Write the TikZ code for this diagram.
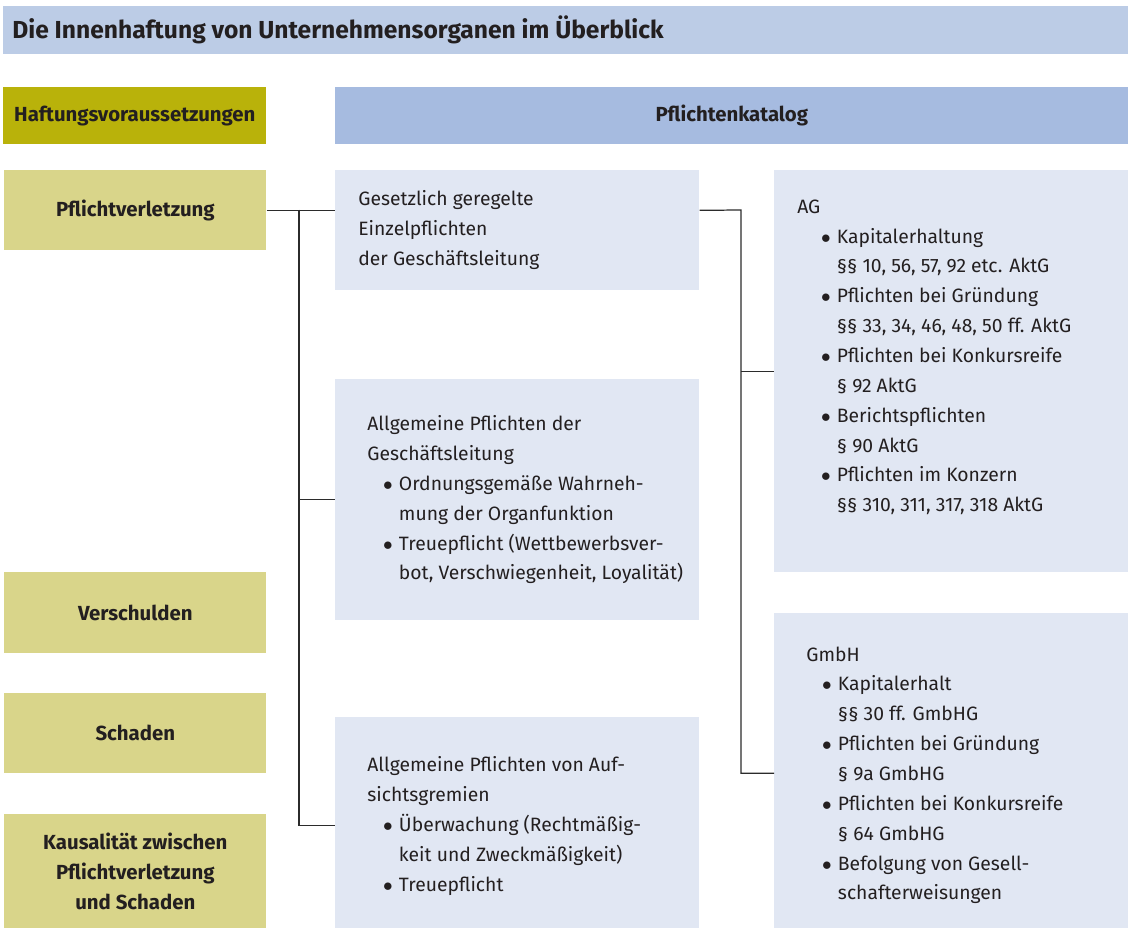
\documentclass[tikz,border=0pt]{standalone}
\usepackage{fontspec}
\setmainfont{Fira Sans}
\usetikzlibrary{positioning}
\definecolor{titelblau}{HTML}{BCCCE6}
\definecolor{kopfoliv}{HTML}{B9B20A}
\definecolor{kopfblau}{HTML}{A6BBE0}
\definecolor{voraussetzung}{HTML}{D9D58A}
\definecolor{pflichtgrau}{HTML}{E1E7F3}
\definecolor{linie}{HTML}{2B2B2B}
\definecolor{schrift}{HTML}{231F20}
\newcommand{\bul}[1]{\hspace*{#1}\makebox[9pt][l]{$\bullet$}}
\newcommand{\nxt}[1]{\hspace*{\dimexpr#1+9pt\relax}}

\tikzset{
  kopf/.style={anchor=north west, inner sep=0pt, minimum height=1.14cm, text=schrift,
    font=\fontsize{11.6}{17}\selectfont\bfseries},
  vor/.style={anchor=north west, fill=voraussetzung, inner sep=0pt, minimum width=5.24cm,
    align=center, text=schrift, font=\fontsize{11.6}{17}\selectfont\bfseries},
  pfl/.style={anchor=north west, fill=pflichtgrau, inner sep=0pt},
  pfltext/.style={anchor=west, inner sep=0pt, align=left, text=schrift,
    font=\fontsize{11}{17}\selectfont},
  verbinder/.style={draw=linie, line width=0.7pt},
}

\begin{document}
\begin{tikzpicture}[x=0.02cm, y=-0.02cm]
\useasboundingbox (0,0) rectangle (1128,928);

% Titelleiste
\node[anchor=north west, fill=titelblau, inner sep=0pt, minimum width=22.5cm, minimum height=0.96cm] (titel) at (3,6) {};
\node[anchor=west, inner sep=0pt, text=schrift, font=\fontsize{14}{16}\selectfont\bfseries] (titeltext) at ([xshift=0.18cm]titel.west) {Die Innenhaftung von Unternehmensorganen im Überblick};

% Kopfzeile
\node[kopf, fill=kopfoliv, minimum width=5.26cm] (haftung) at (3,87) {Haftungsvoraussetzungen};
\node[kopf, fill=kopfblau, minimum width=15.86cm] (katalog) at (335,87) {Pflichtenkatalog};

% Haftungsvoraussetzungen
\node[vor, minimum height=1.6cm] (verletzung) at (4,170) {Pflichtverletzung};
\node[vor, minimum height=1.62cm] (verschulden) at (4,572) {Verschulden};
\node[vor, minimum height=1.6cm] (schaden) at (4,693) {Schaden};
\node[vor, minimum height=2.28cm] (kausal) at (4,814) {Kausalität zwischen\\Pflichtverletzung\\und Schaden};

% Pflichtenkatalog, mittlere Spalte
\node[pfl, minimum width=7.28cm, minimum height=2.4cm] (einzel) at (335,170) {};
\node[pfltext] (einzeltext) at ([xshift=0.46cm]einzel.west) {Gesetzlich geregelte\\Einzelpflichten\\der Geschäftsleitung};

\node[pfl, minimum width=7.28cm, minimum height=4.82cm] (allgemein) at (335,379) {};
\node[pfltext] (allgemeintext) at ([xshift=0.64cm]allgemein.west) {Allgemeine Pflichten der\\Geschäftsleitung\\
  \bul{9pt}Ordnungsgemäße Wahrneh-\\
  \nxt{9pt}mung der Organfunktion\\
  \bul{9pt}Treuepflicht (Wettbewerbsver-\\
  \nxt{9pt}bot, Verschwiegenheit, Loyalität)};

\node[pfl, minimum width=7.28cm, minimum height=4.22cm] (aufsicht) at (335,717) {};
\node[pfltext] (aufsichttext) at ([xshift=0.64cm, yshift=-0.06cm]aufsicht.west) {Allgemeine Pflichten von Auf-\\sichtsgremien\\
  \bul{9pt}Überwachung (Rechtmäßig-\\
  \nxt{9pt}keit und Zweckmäßigkeit)\\
  \bul{9pt}Treuepflicht};

% Pflichtenkatalog, rechte Spalte
\node[pfl, minimum width=7.08cm, minimum height=8.04cm] (ag) at (774,170) {};
\node[pfltext] (agtext) at ([xshift=0.46cm, yshift=0.28cm]ag.west) {AG\\
  \bul{13.5pt}Kapitalerhaltung\\
  \nxt{13.5pt}§§ 10, 56, 57, 92 etc. AktG\\
  \bul{13.5pt}Pflichten bei Gründung\\
  \nxt{13.5pt}§§ 33, 34, 46, 48, 50 ff. AktG\\
  \bul{13.5pt}Pflichten bei Konkursreife\\
  \nxt{13.5pt}§ 92 AktG\\
  \bul{13.5pt}Berichtspflichten\\
  \nxt{13.5pt}§ 90 AktG\\
  \bul{13.5pt}Pflichten im Konzern\\
  \nxt{13.5pt}§§ 310, 311, 317, 318 AktG};

\node[pfl, minimum width=7.08cm, minimum height=6.3cm] (gmbh) at (774,613) {};
\node[pfltext] (gmbhtext) at ([xshift=0.64cm, yshift=-0.09cm]gmbh.west) {GmbH\\
  \bul{9pt}Kapitalerhalt\\
  \nxt{9pt}§§ 30 ff. GmbHG\\
  \bul{9pt}Pflichten bei Gründung\\
  \nxt{9pt}§ 9a GmbHG\\
  \bul{9pt}Pflichten bei Konkursreife\\
  \nxt{9pt}§ 64 GmbHG\\
  \bul{9pt}Befolgung von Gesell-\\
  \nxt{9pt}schafterweisungen};

% Verbindungslinien
\coordinate (links) at (299,210);
\coordinate (rechts) at (741,210);
\draw[verbinder] (verletzung.east) -- (verletzung.east -| einzel.west);
\draw[verbinder] (links) |- (allgemein.west);
\draw[verbinder] (links) |- ([yshift=-0.06cm]aufsicht.west);
\draw[verbinder] (verletzung.east -| einzel.east) -- (rechts) |- ([yshift=-0.05cm]gmbh.west);
\draw[verbinder] (rechts |- ag.west) -- (ag.west);
%\draw[verbinder] (rechts) |- (ag.west);
\end{tikzpicture}
\end{document}
